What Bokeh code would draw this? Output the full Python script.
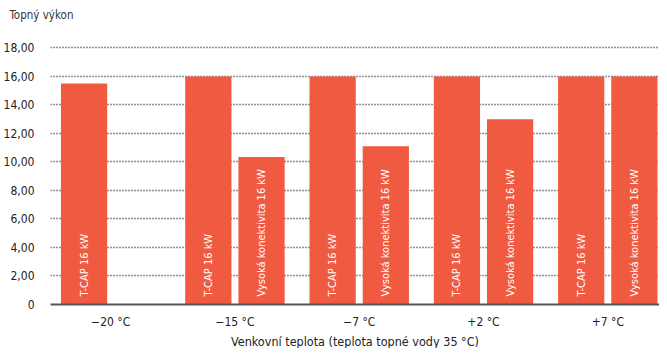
import math
from bokeh.plotting import figure
from bokeh.models import ColumnDataSource, Range1d, FixedTicker, Title
from bokeh.core.properties import value
from bokeh.embed import file_html
from bokeh.resources import INLINE

categories = ["\u221220 \u00b0C", "\u221215 \u00b0C", "\u22127 \u00b0C", "+2 \u00b0C", "+7 \u00b0C"]
tcap = [15.5, 16.0, 16.0, 16.0, 16.0]
vysoka = [float("nan"), 10.35, 11.1, 13.0, 16.0]
series_names = ["T-CAP 16 kW", "Vysoká konektivita 16 kW"]
y_ticks = [0, 2, 4, 6, 8, 10, 12, 14, 16, 18]
y_tick_labels = {0: "0", 2: "2,00", 4: "4,00", 6: "6,00", 8: "8,00", 10: "10,00",
                 12: "12,00", 14: "14,00", 16: "16,00", 18: "18,00"}
x_title = "Venkovní teplota (teplota topné vody 35 °C)"
y_title = "Topný výkon"

FONT = "DejaVu Sans Condensed"
BAR = "#F05A40"
OFF = 0.214
W = 0.372

idx = list(range(len(categories)))
xl = [i + 0.5 - OFF for i in idx]
xr = [i + 0.5 + OFF for i in idx]
src = ColumnDataSource(dict(xl=xl, xr=xr, tcap=tcap, vk=vysoka))

p = figure(width=659, height=348, output_backend="svg", toolbar_location=None,
           x_range=Range1d(0.016, 4.916), y_range=Range1d(0, 19.5),
           min_border_left=41, min_border_right=0, min_border_bottom=0, min_border_top=14)
p.title.text = y_title
p.title.text_font = FONT
p.title.text_font_size = "11.5px"
p.title.text_font_style = "normal"
p.title.text_color = "#333333"
p.title.offset = -41
p.outline_line_color = None

p.add_layout(Title(text=x_title, align="center", text_font=FONT, text_font_size="12.5px",
                   text_font_style="normal", text_color="#222222", standoff=0), "below")

p.vbar(x="xl", top="tcap", width=W, source=src, fill_color=BAR, line_color=None)
p.vbar(x="xr", top="vk", width=W, source=src, fill_color=BAR, line_color=None)

lx, ll = [], []
for i, a, b in zip(idx, tcap, vysoka):
    if not math.isnan(a):
        lx.append(xl[i]); ll.append(series_names[0])
    if not math.isnan(b):
        lx.append(xr[i]); ll.append(series_names[1])
tsrc = ColumnDataSource(dict(x=lx, y=[0] * len(lx), lab=ll))
p.text(x="x", y="y", text="lab", source=tsrc,
       angle=math.pi / 2, text_align="left", text_baseline="middle",
       y_offset=-8, text_color="white", text_font=value(FONT),
       text_font_size="11px")

p.xgrid.grid_line_color = None
p.ygrid.ticker = FixedTicker(ticks=y_ticks[1:])
p.ygrid.grid_line_color = "#222222"
p.ygrid.grid_line_dash = "1 2"
p.ygrid.grid_line_width = 1.4

p.yaxis.ticker = FixedTicker(ticks=y_ticks)
p.yaxis.major_label_overrides = y_tick_labels
p.yaxis.axis_line_color = None
p.yaxis.major_tick_line_color = None
p.yaxis.minor_tick_line_color = None
p.yaxis.major_tick_out = 0
p.yaxis.major_tick_in = 0
p.yaxis.minor_tick_out = 0
p.yaxis.minor_tick_in = 0
p.yaxis.major_label_text_font = FONT
p.yaxis.major_label_text_font_size = "12px"
p.yaxis.major_label_text_color = "#222222"
p.yaxis.major_label_standoff = 16

p.xaxis.ticker = FixedTicker(ticks=[i + 0.5 for i in idx])
p.xaxis.major_label_overrides = {i + 0.5: c for i, c in zip(idx, categories)}
p.xaxis.axis_line_color = "#555555"
p.xaxis.axis_line_width = 2
p.xaxis.major_tick_line_color = None
p.xaxis.minor_tick_line_color = None
p.xaxis.major_tick_out = 0
p.xaxis.major_tick_in = 0
p.xaxis.minor_tick_out = 0
p.xaxis.minor_tick_in = 0
p.xaxis.axis_label_standoff = 0
p.xaxis.major_label_text_font = FONT
p.xaxis.major_label_text_font_size = "12px"
p.xaxis.major_label_text_color = "#222222"
p.xaxis.major_label_standoff = 10

open("out.html", "w").write(file_html(p, INLINE))
